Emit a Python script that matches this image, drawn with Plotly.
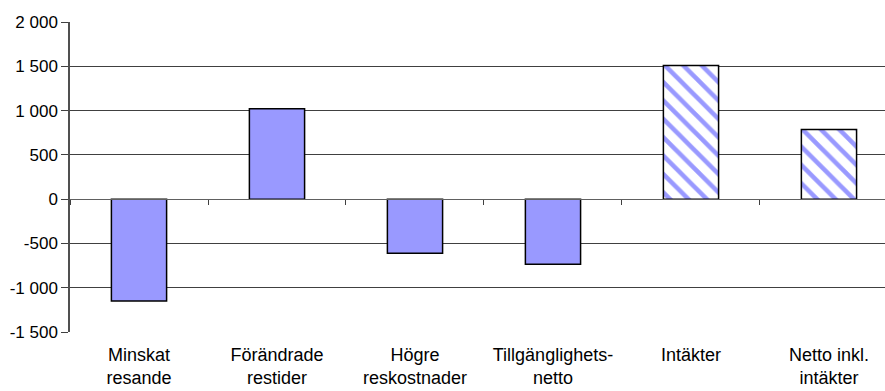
import plotly.graph_objects as go

# Categories and values (MSEK)
categories = [
    "Minskat<br>resande",
    "Förändrade<br>restider",
    "Högre<br>reskostnader",
    "Tillgänglighets-<br>netto",
    "Intäkter",
    "Netto inkl.<br>intäkter",
]
values = [-1150, 1020, -610, -735, 1510, 785]
patterns = ["", "", "", "", "\\", "\\"]

y_tickvals = [-1500, -1000, -500, 0, 500, 1000, 1500, 2000]
y_ticktext = ["-1 500", "-1 000", "-500", "0", "500", "1 000", "1 500", "2 000"]

BLUE = "#9999FF"
FONT = "Arial, Liberation Sans, sans-serif"

fig = go.Figure()
fig.add_trace(go.Bar(
    x=categories,
    y=values,
    marker=dict(
        color=BLUE,
        line=dict(color="black", width=1.5),
        pattern=dict(shape=patterns, fgcolor=BLUE, bgcolor="white",
                     size=13, solidity=0.35, fillmode="replace"),
    ),
    showlegend=False,
    hoverinfo="x+y",
))
# invisible trace carrying the zero-line category axis (ticks between categories)
fig.add_trace(go.Scatter(
    x=categories, y=[0] * len(categories), xaxis="x2",
    mode="markers", marker=dict(opacity=0), showlegend=False, hoverinfo="skip",
))

x_range = [-0.5, 5.406]

fig.update_layout(
    width=885,
    height=391,
    margin=dict(l=70, r=0, t=22, b=59, autoexpand=False),
    paper_bgcolor="white",
    plot_bgcolor="white",
    bargap=0.6,
    font=dict(family=FONT, color="black"),
    xaxis=dict(
        range=x_range,
        showgrid=False,
        showline=False,
        ticks="",
        tickfont=dict(size=18),
        ticklabelstandoff=10,
        zeroline=False,
        automargin=False,
    ),
    xaxis2=dict(
        overlaying="x",
        anchor="free",
        position=1500 / 3500,
        range=x_range,
        showline=True,
        linecolor="#606060",
        linewidth=1,
        ticks="outside",
        tickson="boundaries",
        ticklen=5,
        tickcolor="#404040",
        showticklabels=False,
        showgrid=False,
        zeroline=False,
    ),
    yaxis=dict(
        range=[-1500, 2000],
        tickvals=y_tickvals,
        ticktext=y_ticktext,
        tickfont=dict(size=17),
        showgrid=True,
        gridcolor="#404040",
        gridwidth=1,
        zeroline=False,
        showline=True,
        linecolor="#505050",
        linewidth=1.5,
        ticks="outside",
        ticklen=7,
        tickcolor="#404040",
        automargin=False,
    ),
)

fig.write_html("out.html")
